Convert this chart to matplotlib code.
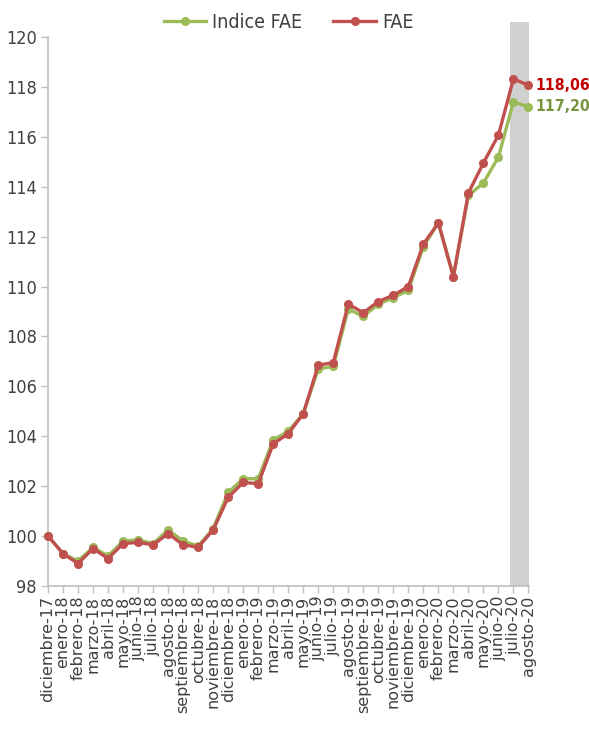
import matplotlib
matplotlib.use("Agg")
import matplotlib.pyplot as plt

# Data
months = ["diciembre-17", "enero-18", "febrero-18", "marzo-18", "abril-18", "mayo-18",
          "junio-18", "julio-18", "agosto-18", "septiembre-18", "octubre-18",
          "noviembre-18", "diciembre-18", "enero-19", "febrero-19", "marzo-19",
          "abril-19", "mayo-19", "junio-19", "julio-19", "agosto-19", "septiembre-19",
          "octubre-19", "noviembre-19", "diciembre-19", "enero-20", "febrero-20",
          "marzo-20", "abril-20", "mayo-20", "junio-20", "julio-20", "agosto-20"]

indice_fae = [100.00, 99.30, 99.00, 99.55, 99.20, 99.80, 99.85, 99.70, 100.25, 99.80,
              99.60, 100.30, 101.75, 102.30, 102.30, 103.85, 104.20, 104.90, 106.70,
              106.80, 109.10, 108.80, 109.30, 109.55, 109.85, 111.60, 112.55, 110.40,
              113.65, 114.15, 115.19, 117.40, 117.20]

fae = [100.00, 99.30, 98.90, 99.50, 99.10, 99.70, 99.75, 99.65, 100.10, 99.65,
       99.55, 100.25, 101.55, 102.15, 102.10, 103.70, 104.10, 104.90, 106.85,
       106.95, 109.30, 108.95, 109.40, 109.65, 110.00, 111.70, 112.55, 110.40,
       113.75, 114.95, 116.07, 118.32, 118.06]

yticks = [98, 100, 102, 104, 106, 108, 110, 112, 114, 116, 118, 120]

green = "#9BBB59"
red = "#C0504D"
axis_gray = "#BFBFBF"
text_gray = "#404040"
narrow = {"family": "DejaVu Sans", "stretch": "condensed"}

fig = plt.figure(figsize=(5.89, 7.45), dpi=100)
ax = fig.add_axes([0.0815, 0.2134, 0.817, 0.737])

x = list(range(len(months)))

# Shaded band over the last two months
ax.axvspan(30.8, 32.05, ymin=0, ymax=1.027, color="#D0D0D0", lw=0, clip_on=False, zorder=0)

ax.plot(x, indice_fae, color=green, lw=2.4, marker="o", ms=5.5, label="Indice FAE",
        zorder=3, clip_on=False)
ax.plot(x, fae, color=red, lw=2.4, marker="o", ms=5.5, label="FAE", zorder=4, clip_on=False)

ax.set_xlim(0, 32.05)
ax.set_ylim(98, 120)
ax.set_yticks(yticks)
ax.set_yticklabels([str(v) for v in yticks], fontsize=13, color=text_gray, **narrow)
ax.set_xticks(x)
ax.set_xticklabels(months, rotation=90, fontsize=11.5, color=text_gray, family="DejaVu Sans")

for side in ["top", "right"]:
    ax.spines[side].set_visible(False)
for side in ["left", "bottom"]:
    ax.spines[side].set_color(axis_gray)
    ax.spines[side].set_linewidth(1.2)
ax.tick_params(axis="both", colors=axis_gray, length=5, width=1)
ax.tick_params(axis="y", labelcolor=text_gray, pad=3)
ax.tick_params(axis="x", labelcolor=text_gray, pad=2)

# End-of-series value labels
ax.annotate("118,06", (x[-1], fae[-1]), xytext=(5, 0), textcoords="offset points",
            va="center", ha="left", color="#C00000", fontsize=11.3, fontweight="bold",
            annotation_clip=False, **narrow)
ax.annotate("117,20", (x[-1], indice_fae[-1]), xytext=(5, 0), textcoords="offset points",
            va="center", ha="left", color="#77933C", fontsize=11.3, fontweight="bold",
            annotation_clip=False, **narrow)

leg = ax.legend(loc="lower center", bbox_to_anchor=(0.5, 0.995), ncol=2, frameon=False,
                prop={"size": 14, **narrow}, handlelength=2.2, columnspacing=1.6,
                handletextpad=0.3, borderaxespad=0)
for t in leg.get_texts():
    t.set_color(text_gray)

fig.savefig("out.png", dpi=100)
plt.close(fig)
